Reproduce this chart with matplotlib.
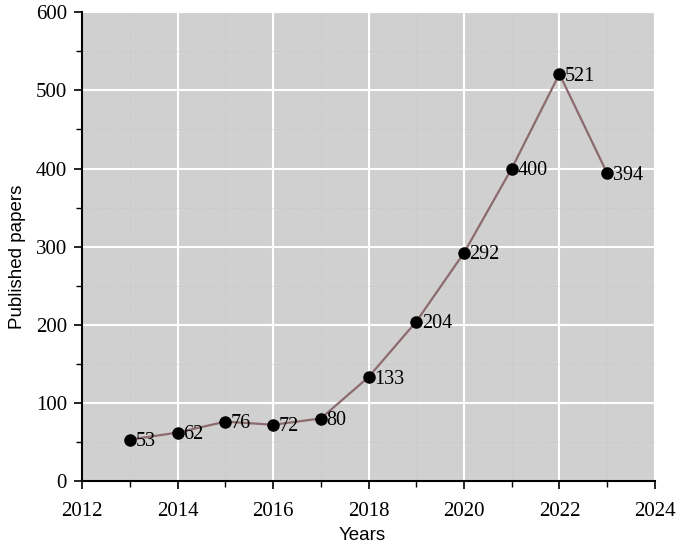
import matplotlib
matplotlib.use("Agg")
import matplotlib.pyplot as plt
from matplotlib.ticker import MultipleLocator

years = [2013, 2014, 2015, 2016, 2017, 2018, 2019, 2020, 2021, 2022, 2023]
papers = [53, 62, 76, 72, 80, 133, 204, 292, 400, 521, 394]

fig = plt.figure(figsize=(6.85, 5.58), dpi=100)
ax = fig.add_axes([0.12, 0.138, 0.836, 0.840])
ax.set_facecolor('#d0d0d0')
ax.set_xlim(2012, 2024)
ax.set_ylim(0, 600)
ax.xaxis.set_major_locator(MultipleLocator(2))
ax.xaxis.set_minor_locator(MultipleLocator(1))
ax.yaxis.set_major_locator(MultipleLocator(100))
ax.yaxis.set_minor_locator(MultipleLocator(50))
ax.grid(which='major', color='white', linewidth=1.5)
ax.grid(which='minor', color='#c4c4c4', linewidth=0.6, linestyle=':')
ax.set_axisbelow(True)
for s in ['top', 'right']:
    ax.spines[s].set_visible(False)
for s in ['left', 'bottom']:
    ax.spines[s].set_linewidth(1.5)
ax.tick_params(which='major', length=6, width=1.2, labelsize=15)
ax.tick_params(axis='x', which='major', pad=9)
ax.tick_params(axis='y', which='major', pad=5)
ax.tick_params(which='minor', length=4, width=1.0)
for lab in ax.get_xticklabels() + ax.get_yticklabels():
    lab.set_fontfamily('Liberation Serif')

ax.plot(years, papers, color='#8c6a6e', linewidth=1.6, zorder=3)
ax.plot(years, papers, 'o', color='black', markersize=8, zorder=4)
for x, y in zip(years, papers):
    ax.annotate(str(y), (x, y), xytext=(4, -1.5), textcoords='offset points',
                ha='left', va='center', fontsize=14.5, family='Liberation Serif', zorder=5)

ax.set_xlabel('Years', fontsize=13.5, family='Liberation Sans')
ax.set_ylabel('Published papers', fontsize=13.5, family='Liberation Sans')
ax.xaxis.set_label_coords(0.489, -0.098)
ax.yaxis.set_label_coords(-0.098, 0.478)

fig.savefig('out.png', dpi=100)
